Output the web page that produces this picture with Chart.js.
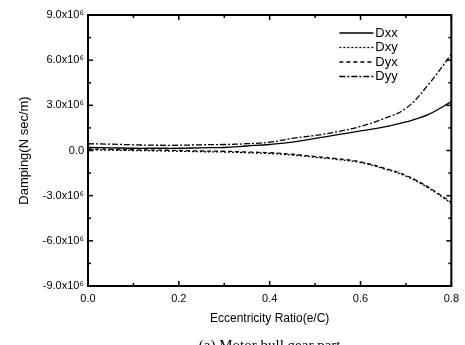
<!DOCTYPE html>
<html>
<head>
<meta charset="utf-8">
<script src="https://cdn.jsdelivr.net/npm/chart.js@4.4.0/dist/chart.umd.min.js"></script>
<style>
  html, body { margin: 0; padding: 0; background: #fff; }
  #wrap { width: 465px; height: 345px; position: relative; }
</style>
</head>
<body>
<div id="wrap"><canvas id="myLine"></canvas></div>
<script>
// eccentricity ratio e/C
var ecc = [0.0, 0.05, 0.1, 0.15, 0.2, 0.25, 0.3, 0.35, 0.4, 0.45, 0.5, 0.55, 0.6, 0.65, 0.7, 0.75, 0.8];
// damping, in units of 10^6 N sec/m
var dxx = [0.2, 0.18, 0.15, 0.15, 0.15, 0.18, 0.2, 0.3, 0.4, 0.55, 0.8, 1.05, 1.3, 1.55, 1.9, 2.4, 3.25];
var dxy = [0.05, 0.02, 0, -0.02, -0.05, -0.08, -0.1, -0.15, -0.2, -0.3, -0.45, -0.6, -0.8, -1.2, -1.7, -2.5, -3.5];
var dyx = [0.1, 0.08, 0.05, 0.03, 0.0, -0.03, -0.05, -0.1, -0.15, -0.25, -0.4, -0.55, -0.75, -1.15, -1.65, -2.45, -3.45];
var dyy = [0.45, 0.42, 0.38, 0.35, 0.35, 0.38, 0.4, 0.45, 0.55, 0.8, 1.0, 1.25, 1.6, 2.1, 2.8, 4.4, 6.4];
var seriesNames = ['Dxx', 'Dxy', 'Dyx', 'Dyy'];
var xTicks = [0.0, 0.2, 0.4, 0.6, 0.8];
var yTicks = [-9, -6, -3, 0, 3, 6, 9];
var caption = '(a) Motor bull gear part';

function pts(vals) {
  var out = [];
  for (var i = 0; i < ecc.length; i++) out.push({x: ecc[i], y: vals[i] * 1e6});
  return out;
}

var styles = [[], [2, 2], [4, 3], [6, 2, 2, 2]];
var all = [dxx, dxy, dyx, dyy];
var datasets = [];
for (var k = 0; k < all.length; k++) {
  datasets.push({
    label: seriesNames[k],
    data: pts(all[k]),
    borderColor: '#000',
    borderWidth: 1.3,
    borderDash: styles[k],
    fill: false,
    tension: 0.4,
    pointRadius: 0
  });
}

var frame = {
  id: 'frame',
  afterDraw: function(chart) {
    var c = chart.ctx, a = chart.chartArea;
    var xs = chart.scales.x, ys = chart.scales.y;
    c.save();
    c.strokeStyle = '#000';
    c.lineWidth = 2;
    c.setLineDash([]);
    c.strokeRect(a.left, a.top, a.right - a.left, a.bottom - a.top);
    c.lineWidth = 1.5;
    // inward ticks, major and minor
    for (var v = 0; v <= 0.8001; v += 0.1) {
      var px = xs.getPixelForValue(v);
      var len = (Math.round(v * 10) % 2 === 0) ? 5 : 3;
      c.beginPath(); c.moveTo(px, a.bottom); c.lineTo(px, a.bottom - len); c.stroke();
      c.beginPath(); c.moveTo(px, a.top); c.lineTo(px, a.top + len); c.stroke();
    }
    for (var w = -9; w <= 9.001; w += 1.5) {
      var py = ys.getPixelForValue(w * 1e6);
      var l2 = (Math.round(w * 2) % 6 === 0) ? 5 : 3;
      c.beginPath(); c.moveTo(a.left, py); c.lineTo(a.left + l2, py); c.stroke();
      c.beginPath(); c.moveTo(a.right, py); c.lineTo(a.right - l2, py); c.stroke();
    }
    // legend inside top right
    c.font = '13px "Liberation Sans", Arial, sans-serif';
    c.textBaseline = 'middle';
    c.fillStyle = '#000';
    for (var i = 0; i < chart.data.datasets.length; i++) {
      var ds = chart.data.datasets[i];
      var ly = a.top + 18 + i * 14.5;
      c.lineWidth = 1.3;
      c.setLineDash(ds.borderDash);
      c.beginPath(); c.moveTo(a.right - 112, ly); c.lineTo(a.right - 78, ly); c.stroke();
      c.setLineDash([]);
      c.fillText(ds.label, a.right - 76, ly);
    }
    // caption
    c.font = '15px "Liberation Serif", "Times New Roman", serif';
    c.textAlign = 'center';
    c.textBaseline = 'alphabetic';
    c.fillText(caption, (a.left + a.right) / 2, 350);
    c.restore();
  }
};

var ctx = document.getElementById('myLine').getContext('2d');
var myChart = new Chart(ctx, {
  type: 'line',
  data: { datasets: datasets },
  options: {
    responsive: true,
    maintainAspectRatio: false,
    animation: false,
    layout: { padding: { left: 0, top: 15, right: 11, bottom: 19 } },
    plugins: { legend: { display: false }, tooltip: { enabled: false } },
    scales: {
      x: {
        type: 'linear',
        min: 0, max: 0.8,
        grid: { display: false, drawTicks: false },
        border: { display: false },
        afterBuildTicks: function(s) { s.ticks = xTicks.map(function(v) { return {value: v}; }); },
        ticks: {
          padding: 6,
          color: '#000',
          font: { family: '"Liberation Sans", Arial, sans-serif', size: 11 },
          callback: function(v) { return Number(v).toFixed(1); }
        },
        title: {
          display: true,
          text: 'Eccentricity Ratio(e/C)',
          color: '#000',
          padding: { top: 5, bottom: 0 },
          font: { family: '"Liberation Sans", Arial, sans-serif', size: 12 }
        },
        afterFit: function(s) { s.height = 40; }
      },
      y: {
        min: -9e6, max: 9e6,
        grid: { display: false, drawTicks: false },
        border: { display: false },
        afterBuildTicks: function(s) { s.ticks = yTicks.map(function(v) { return {value: v * 1e6}; }); },
        ticks: {
          padding: 4,
          color: '#000',
          font: { family: '"Liberation Sans", Arial, sans-serif', size: 11 },
          callback: function(v) {
            if (v === 0) return '0.0';
            return (v / 1e6).toFixed(1) + 'x10\u2076';
          }
        },
        title: {
          display: true,
          text: 'Damping(N sec/m)',
          color: '#000',
          padding: { top: 17, bottom: 0 },
          font: { family: '"Liberation Sans", Arial, sans-serif', size: 13 }
        },
        afterFit: function(s) { s.width = 88; }
      }
    }
  },
  plugins: [frame]
});
</script>
</body>
</html>
